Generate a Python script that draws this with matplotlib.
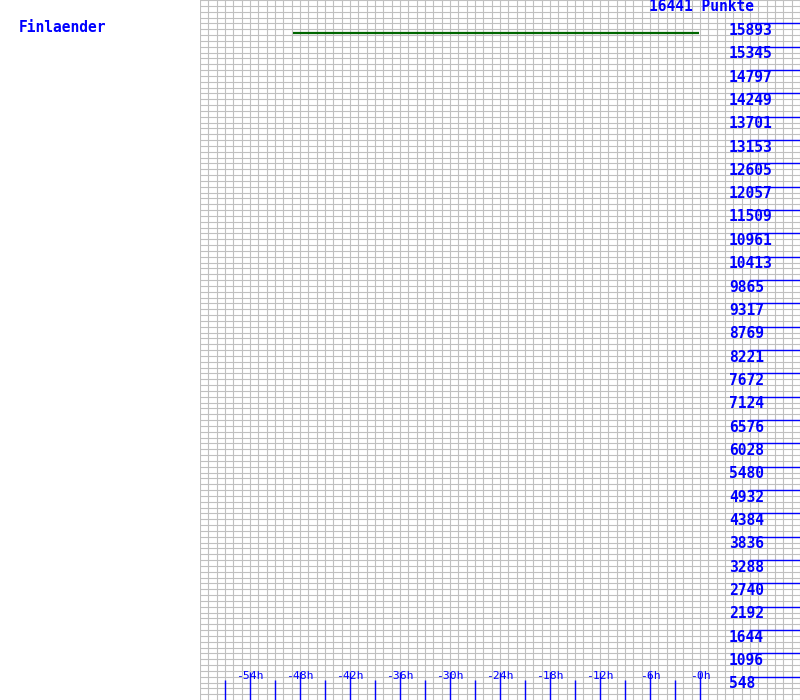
import matplotlib
matplotlib.use("Agg")
import matplotlib.pyplot as plt
import matplotlib.transforms as mtransforms

# ---- data ----
title_left = "Finlaender"
total_label = "16441 Punkte"
y_max = 16441
series_hours = [-48.9, -0.1]
series_points = [15672, 15672]
y_tick_values = [16441 * k / 30 for k in range(1, 30)]
y_tick_labels = ["548", "1096", "1644", "2192", "2740", "3288", "3836", "4384",
                 "4932", "5480", "6028", "6576", "7124", "7672", "8221", "8769",
                 "9317", "9865", "10413", "10961", "11509", "12057", "12605",
                 "13153", "13701", "14249", "14797", "15345", "15893"]
hour_label_ticks = [-54, -48, -42, -36, -30, -24, -18, -12, -6, 0]
hour_labels = ["-54h", "-48h", "-42h", "-36h", "-30h", "-24h", "-18h", "-12h", "-6h", "-0h"]
hour_minor_ticks = [-57, -51, -45, -39, -33, -27, -21, -15, -9, -3]

W, H = 800, 700
BLUE = "#0000ff"
GRID = "#c0c0c0"
GREEN = "#006600"
FONT = "DejaVu Sans Mono"

fig = plt.figure(figsize=(W / 100, H / 100), dpi=100)
fig.patch.set_facecolor("white")
ax = fig.add_axes([200 / W, 0, 600 / W, 1])
x_min, x_max = -60, 12
ax.set_xlim(x_min, x_max)
ax.set_ylim(0, y_max)
ax.set_axis_off()

# grid
for h in range(x_min, x_max + 1):
    ax.axvline(h, color=GRID, lw=0.8, zorder=1)
step = y_max / 120
for k in range(0, 121):
    ax.axhline(k * step, color=GRID, lw=0.8, zorder=1)

# bottom ticks
tx = mtransforms.blended_transform_factory(ax.transData, ax.transAxes)
ax.vlines(hour_minor_ticks, 0, 20 / H, transform=tx, color=BLUE, lw=1.0, zorder=3)
ax.vlines(hour_label_ticks, 0, 28 / H, transform=tx, color=BLUE, lw=1.0, zorder=3)
for h, lab in zip(hour_label_ticks, hour_labels):
    ax.text(h, 24 / H, lab, transform=tx, ha="center", va="center",
            color=BLUE, fontsize=8.2, family=FONT, zorder=4)

# right ticks
ty = mtransforms.blended_transform_factory(ax.transAxes, ax.transData)
ax.hlines(y_tick_values, (749 - 200) / 600, 1.0, transform=ty, color=BLUE, lw=1.0, zorder=3)
for v, lab in zip(y_tick_values, y_tick_labels):
    ax.annotate(lab, xy=((729 - 200) / 600, v), xycoords=ty,
                xytext=(0, -7 * 0.72), textcoords="offset points",
                ha="left", va="center", color=BLUE, fontsize=10.5,
                family=FONT, weight="bold", zorder=4)

# data line
ax.plot(series_hours, series_points, color=GREEN, lw=1.6, zorder=5, solid_capstyle="butt")

# texts
fig.text(649 / W, 1 - 6.5 / H, total_label, ha="left", va="center", color=BLUE,
         fontsize=10.5, family=FONT, weight="bold")
fig.text(19 / W, 1 - 28 / H, title_left, ha="left", va="center", color=BLUE,
         fontsize=10.5, family=FONT, weight="bold")

fig.savefig("out.png", dpi=100, facecolor="white")
